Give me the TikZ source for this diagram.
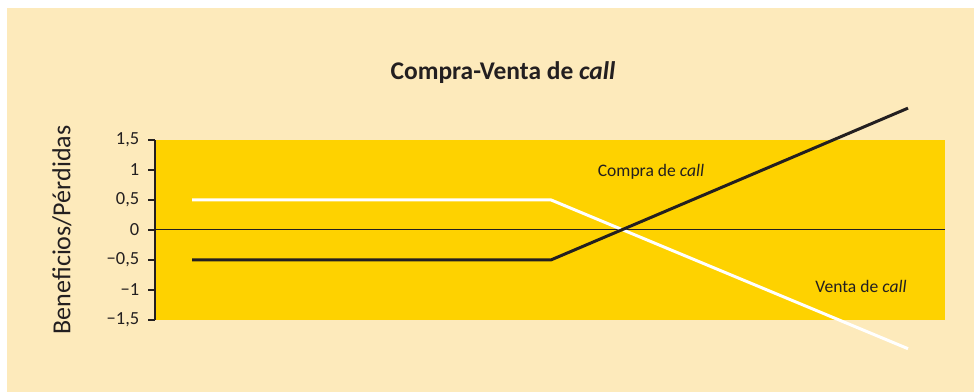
\documentclass[tikz,border=0pt]{standalone}
\usepackage{fontspec}
\setmainfont{Carlito}
\usetikzlibrary{calc}

\definecolor{crema}{RGB}{253,234,187}
\definecolor{amarillo}{RGB}{254,210,0}
\definecolor{tinta}{RGB}{35,31,32}

\begin{document}
\begin{tikzpicture}[x=0.02cm,y=1.2cm,
    rotulo/.style={text=tinta,font=\fontsize{10}{12}\selectfont},
    marca/.style={text=tinta,anchor=east,inner sep=0pt,font=\fontsize{10.5}{12}\selectfont}]
            \useasboundingbox (0,-2.7) rectangle (974,3.833);
            \fill [crema] (7,-2.7) rectangle (974,3.7);
            \fill [amarillo] (155,-1.5) rectangle (945,1.5);
            % ejes
            \draw [tinta,line width=0.6pt] (155,0) -- (945,0);
            \draw [tinta,line width=0.9pt] (155,-1.5) -- (155,1.5);
            \foreach \v/\t in {1.5/{1,5},1/1,0.5/{0,5},0/0,-0.5/{−0,5},-1/{−1},-1.5/{−1,5}}
                \draw [tinta,line width=0.9pt] (148,\v) -- (155,\v)
                    node [marca] (m\v) at (140,\v) {\t};
            % curvas
            \draw [white,line width=1.7pt] (192,0.5) -- (551,0.5) -- (908,-1.98);
            \draw [tinta,line width=1.7pt] (192,-0.5) -- (551,-0.5) -- (908,2.03);
            \node [rotulo] (compra) at (651,0.97) {Compra de \textit{call}};
            \node [rotulo] (venta) at (861,-0.95) {Venta de \textit{call}};
            \node [text=tinta,font=\fontsize{14.5}{17}\selectfont\bfseries] (titulo) at (503,2.62) {Compra-Venta de \textit{call}};
            \node [text=tinta,rotate=90,font=\fontsize{14.8}{17}\selectfont] (ejey) at (62,0) {Beneficios/Pérdidas};
        \end{tikzpicture}
\end{document}
